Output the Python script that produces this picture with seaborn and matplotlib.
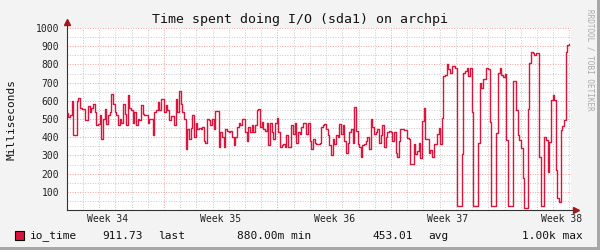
import numpy as np
import pandas as pd
import matplotlib
matplotlib.use("Agg")
import matplotlib.pyplot as plt
import seaborn as sns
from matplotlib.patches import Rectangle
from matplotlib.lines import Line2D

# ---------------- data ----------------
title = "Time spent doing I/O (sda1) on archpi"
y_label = "Milliseconds"
side_text = "RRDTOOL / TOBI OETIKER"
week_labels = ["Week 34", "Week 35", "Week 36", "Week 37", "Week 38"]
week_label_days = [-3.5, 3.5, 10.5, 17.5, 24.5]   # days relative to start of Week 35
week_start_days = [0, 7, 14, 21]
y_ticks = [100, 200, 300, 400, 500, 600, 700, 800, 900, 1000]
series_name = "io_time"
legend_items = ["911.73", "last", "880.00m min", "453.01", "avg", "1.00k max"]

seg1 = [533, 510, 520, 600, 410, 410, 600, 615, 560, 555, 555, 495, 495, 570, 540, 560,
        585, 540, 465, 470, 520, 390, 500, 555, 475, 520, 540, 640, 585, 540, 520, 465,
        500, 480, 580, 530, 465, 630, 560, 550, 480, 540, 465, 500, 495, 575, 530, 520,
        520, 480, 500]
seg2 = [500, 410, 540, 550, 595, 550, 610, 610, 540, 575, 550, 495, 515, 515, 465, 610,
        540, 655, 585, 540, 500, 335, 445, 390, 450, 520, 400, 480, 445, 450, 445, 455,
        380, 370, 500, 495, 465, 500, 445, 545, 545, 345, 430, 400, 345, 445, 435, 430,
        435, 400, 355]
seg3 = [400, 455, 480, 465, 500, 500, 430, 380, 455, 430, 465, 430, 465, 550, 555, 455,
        485, 445, 435, 480, 355, 480, 430, 390, 480, 505, 430, 345, 355, 365, 345, 410,
        345, 345, 465, 420, 480, 370, 430, 420, 455, 480, 480, 420, 480, 380, 335, 390,
        370, 365, 365]
seg4 = [370, 455, 465, 475, 445, 410, 355, 300, 390, 365, 410, 400, 475, 420, 465, 380,
        315, 370, 430, 445, 370, 565, 435, 365, 345, 290, 355, 365, 380, 400, 335, 500,
        455, 420, 430, 445, 370, 410, 465, 345, 400, 430, 435, 430, 380, 430, 315, 290,
        380, 445, 445]
seg5 = [437, 437, 397, 388, 254, 254, 360, 305, 325, 370, 287, 490, 562, 388, 392, 315,
        327, 290, 360, 364, 415, 452, 360, 507, 736, 741, 800, 772, 754, 791, 791, 782,
        22, 22, 22, 305, 754, 763, 778, 736, 778, 540, 22, 22, 22, 370, 700, 672, 718,
        718, 778]
seg6 = [773, 485, 20, 20, 20, 421, 751, 778, 742, 733, 748, 385, 20, 20, 20, 711, 711,
        550, 412, 385, 340, 174, 10, 10, 553, 806, 870, 861, 852, 861, 861, 293, 22, 22,
        403, 385, 211, 376, 604, 632, 604, 220, 64, 46, 440, 462, 495, 870, 906, 912]

values = np.array(seg1 + seg2 + seg3 + seg4 + seg5 + seg6, dtype=float)
t_first, t_last = -6.0, 24.98
days = np.linspace(t_first, t_last, len(values))
df = pd.DataFrame({"day": days, "ms": values})

# ---------------- style ----------------
sns.set_theme(style="white")
plt.rcParams["font.family"] = ["DejaVu Sans Mono"]

W, H = 600, 250
fig = plt.figure(figsize=(6, 2.5), dpi=100, facecolor="#F3F3F3")
ax_l, ax_r, ax_t, ax_b = 67, 571, 28, 210
ax = fig.add_axes([ax_l / W, (H - ax_b) / H, (ax_r - ax_l) / W, (ax_b - ax_t) / H])
ax.set_facecolor("white")

# frame shading
fig.patches.append(Rectangle((0, 0), 1, 3 / H, transform=fig.transFigure,
                             facecolor="#A8A8A8", edgecolor="none", zorder=-1))
fig.patches.append(Rectangle((1 - 3 / W, 0), 3 / W, 1, transform=fig.transFigure,
                             facecolor="#A8A8A8", edgecolor="none", zorder=-1))

x_min, x_max = -5.98, 25.1
ax.set_xlim(x_min, x_max)
ax.set_ylim(0, 1000)

red_grid = "#F2A0A0"
gray_grid = "#C8C8C8"
dots = (0, (1, 1.6))
for yv in range(50, 1001, 50):
    ax.axhline(yv, color=red_grid if yv % 100 == 0 else gray_grid, lw=0.7, ls=dots, zorder=0)
for dv in range(-5, 26):
    ax.axvline(dv, color=red_grid if dv % 7 == 0 else gray_grid, lw=0.7, ls=dots, zorder=0)

sns.lineplot(data=df, x="day", y="ms", ax=ax, color="#DC143C", lw=1.0,
             drawstyle="steps-post", estimator=None, legend=False, zorder=3)

# axes
for s in ["top", "right"]:
    ax.spines[s].set_visible(False)
for s in ["left", "bottom"]:
    ax.spines[s].set_color("#333333")
    ax.spines[s].set_linewidth(0.8)
ax.set_xlabel("")
ax.set_ylabel("")
ax.set_yticks(y_ticks)
ax.set_yticklabels([str(v) for v in y_ticks], fontsize=7, color="#222222")
ax.set_yticks(list(range(50, 1001, 100)), minor=True)
ax.set_xticks(week_start_days)
ax.set_xticklabels([])
ax.set_xticks(list(range(-5, 26)), minor=True)
ax.tick_params(axis="both", which="major", direction="out", length=2.5, width=0.7,
               color="#444444", pad=3)
ax.tick_params(axis="both", which="minor", direction="out", length=1.5, width=0.6,
               color="#666666")

for lab, d in zip(week_labels, week_label_days):
    ax.text(d, -9 / (ax_b - ax_t), lab, transform=ax.get_xaxis_transform(),
            ha="center", va="center", fontsize=7, color="#222222")

# axis extensions + arrows
ext_top = 1 + 6 / (ax_b - ax_t)
ext_right = 1 + 5 / (ax_r - ax_l)
ax.add_line(Line2D([0, 0], [1, ext_top], transform=ax.transAxes, color="#333333",
                   lw=0.8, clip_on=False))
ax.add_line(Line2D([1, ext_right], [0, 0], transform=ax.transAxes, color="#333333",
                   lw=0.8, clip_on=False))
ax.plot([0], [ext_top], marker="^", ms=4, color="#A01818", transform=ax.transAxes,
        clip_on=False)
ax.plot([ext_right], [0], marker=">", ms=4, color="#A01818", transform=ax.transAxes,
        clip_on=False)

# texts
fig.text(300 / W, (H - 19) / H, title, ha="center", va="center", fontsize=9.5,
         color="#111111")
fig.text(12 / W, (H - 119) / H, y_label, rotation=90, ha="center", va="center",
         fontsize=8, color="#111111")
fig.text(590 / W, (H - 60) / H, side_text, rotation=270, ha="center", va="center",
         fontsize=5.5, color="#AAAAAA")

# legend
fig.patches.append(Rectangle((15 / W, (H - 240) / H), 9 / W, 9 / H, transform=fig.transFigure,
                             facecolor="#DC143C", edgecolor="black", lw=0.8))
leg_y = (H - 236) / H
fig.text(30 / W, leg_y, series_name, ha="left", va="center", fontsize=8, color="#111111")
leg_x = [102, 158, 237, 372, 428, 522]
for txt, xp in zip(legend_items, leg_x):
    fig.text(xp / W, leg_y, txt, ha="left", va="center", fontsize=8, color="#111111")

fig.savefig("out.png", dpi=100, facecolor=fig.get_facecolor())
